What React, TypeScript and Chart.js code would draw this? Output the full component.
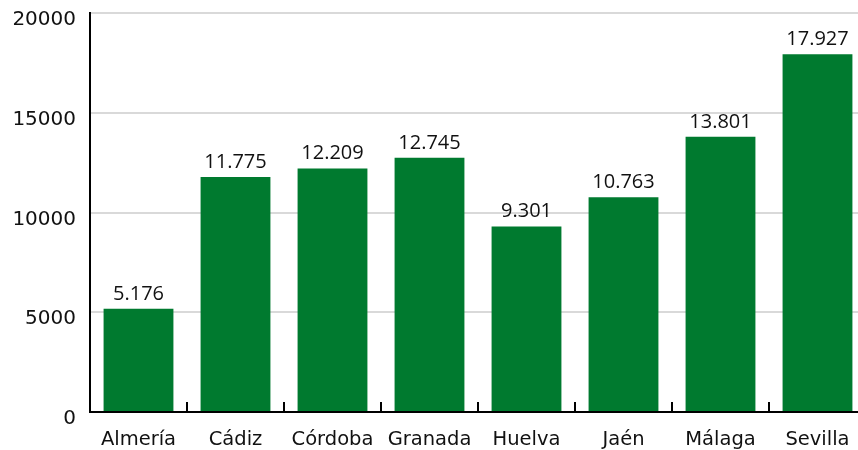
import React, { useEffect, useRef } from "react";
import { Chart, registerables } from "chart.js";

Chart.register(...registerables);

const categories = ["Almería", "Cádiz", "Córdoba", "Granada", "Huelva", "Jaén", "Málaga", "Sevilla"];
const values = [5176, 11775, 12209, 12745, 9301, 10763, 13801, 17927];
const yTicks = [0, 5000, 10000, 15000, 20000];

const fmt = (v: number) => String(v).replace(/\B(?=(\d{3})+(?!\d))/g, ".");

const boundaryTicks = {
  id: "boundaryTicks",
  afterDraw(chart: any) {
    const x = chart.scales.x;
    const bottom = chart.chartArea.bottom;
    const ctx = chart.ctx;
    ctx.save();
    ctx.strokeStyle = "#000";
    ctx.lineWidth = 2;
    for (let i = 1; i < categories.length; i++) {
      const px = Math.round((x.getPixelForValue(i - 1) + x.getPixelForValue(i)) / 2);
      ctx.beginPath();
      ctx.moveTo(px, bottom);
      ctx.lineTo(px, bottom - 10);
      ctx.stroke();
    }
    ctx.restore();
  },
};

const valueLabels = {
  id: "valueLabels",
  afterDatasetsDraw(chart: any) {
    const ctx = chart.ctx;
    const meta = chart.getDatasetMeta(0);
    ctx.save();
    ctx.font = '20px "Open Sans"';
    ctx.fillStyle = "#111";
    ctx.textAlign = "center";
    ctx.textBaseline = "alphabetic";
    meta.data.forEach((bar: any, i: number) => {
      ctx.fillText(fmt(values[i]), bar.x, bar.y - 9);
    });
    ctx.restore();
  },
};

export default function App() {
  const ref = useRef<HTMLCanvasElement>(null);
  useEffect(() => {
    if (!ref.current) return;
    const chart = new Chart(ref.current, {
      type: "bar",
      data: {
        labels: categories,
        datasets: [
          {
            data: values,
            backgroundColor: "#007a2f",
            borderWidth: 0,
            barPercentage: 0.72,
            categoryPercentage: 1,
          },
        ],
      },
      options: {
        responsive: false,
        animation: false,
        layout: { padding: { top: 13, left: 0, right: 0, bottom: 0 } },
        plugins: { legend: { display: false }, tooltip: { enabled: false } },
        scales: {
          x: {
            offset: true,
            grid: { display: false, drawTicks: false },
            border: { display: true, color: "#000", width: 2 },
            ticks: {
              color: "#111",
              padding: 16,
              maxRotation: 0,
              font: { family: '"DejaVu Sans"', size: 19.5 },
            },
            afterFit(scale: any) {
              scale.height = 38;
              scale.paddingLeft = 0;
              scale.paddingRight = 0;
            },
          },
          y: {
            min: 0,
            max: 20000,
            afterBuildTicks(scale: any) {
              scale.ticks = yTicks.map((v) => ({ value: v }));
            },
            grid: { color: "#d9d9d9", lineWidth: 2, drawTicks: false },
            border: { display: true, color: "#000", width: 2 },
            ticks: {
              color: "#111",
              padding: 14,
              labelOffset: 7,
              font: { family: '"DejaVu Sans"', size: 20 },
              callback: (v: any) => String(v),
            },
            afterFit(scale: any) {
              scale.width = 90;
              scale.paddingTop = 0;
              scale.paddingBottom = 0;
            },
          },
        },
      },
      plugins: [boundaryTicks, valueLabels],
    });
    return () => chart.destroy();
  }, []);
  return (
    <div style={{ position: "fixed", left: 0, top: 0, width: 858, height: 450, overflow: "hidden", background: "#fff" }}>
      <canvas ref={ref} width={866} height={450} style={{ display: "block" }} />
    </div>
  );
}
